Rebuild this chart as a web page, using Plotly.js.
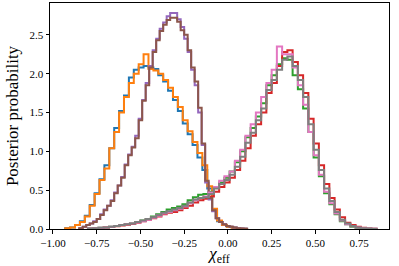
<!DOCTYPE html>
<html>
<head>
<meta charset="utf-8">
<script src="https://cdn.plot.ly/plotly-3.0.1.min.js"></script>
<style>html,body{margin:0;padding:0;background:#fff;}#chart{width:399px;height:266px;}</style>
</head>
<body>
<div id="chart"></div>
<script>
// Bin edges (chi_eff) for each group of histograms
const edgesA = [-0.930,-0.902,-0.874,-0.846,-0.818,-0.790,-0.762,-0.734,-0.706,-0.678,-0.650,-0.622,-0.594,-0.566,-0.538,-0.510,-0.482,-0.454,-0.426,-0.398,-0.370,-0.342,-0.314,-0.286,-0.258,-0.230,-0.202,-0.174,-0.146,-0.118,-0.090,-0.062,-0.034,-0.006,0.022,0.050,0.078,0.106];
const edgesB = [-0.85,-0.83,-0.81,-0.79,-0.77,-0.75,-0.73,-0.71,-0.69,-0.67,-0.65,-0.63,-0.61,-0.59,-0.57,-0.55,-0.53,-0.51,-0.49,-0.47,-0.45,-0.43,-0.41,-0.39,-0.37,-0.35,-0.33,-0.31,-0.29,-0.27,-0.25,-0.23,-0.21,-0.19,-0.17,-0.15,-0.13,-0.11,-0.09,-0.07,-0.05,-0.03,-0.01,0.01,0.03,0.05,0.07,0.09,0.11];
const edgesC = [-0.80,-0.77,-0.74,-0.71,-0.68,-0.65,-0.62,-0.59,-0.56,-0.53,-0.50,-0.47,-0.44,-0.41,-0.38,-0.35,-0.32,-0.29,-0.26,-0.23,-0.20,-0.17,-0.14,-0.11,-0.08,-0.05,-0.02,0.01,0.04,0.07,0.10,0.13,0.16,0.19,0.22,0.25,0.28,0.31,0.34,0.37,0.40,0.43,0.46,0.49,0.52,0.55,0.58,0.61,0.64,0.67,0.70,0.73,0.76,0.79,0.82,0.85];

// Posterior densities per bin
const blueVals = [0.01,0.02,0.05,0.10,0.17,0.31,0.46,0.64,0.82,1.04,1.30,1.52,1.72,1.95,2.05,2.08,2.10,2.08,2.06,1.98,1.90,1.78,1.66,1.52,1.36,1.22,1.08,0.92,0.76,0.52,0.24,0.10,0.05,0.03,0.015,0.008,0.003];
const orangeVals = [0.01,0.02,0.05,0.09,0.16,0.30,0.45,0.63,0.78,1.04,1.25,1.50,1.70,1.88,2.00,2.12,2.25,2.06,2.04,2.00,1.92,1.82,1.70,1.57,1.40,1.26,1.12,0.98,0.82,0.55,0.26,0.11,0.05,0.03,0.015,0.008,0.003];
const purpleVals = [0.01,0.03,0.05,0.07,0.10,0.13,0.19,0.25,0.30,0.37,0.47,0.56,0.67,0.83,0.96,1.06,1.20,1.42,1.66,1.88,2.10,2.30,2.45,2.58,2.66,2.74,2.78,2.78,2.70,2.60,2.45,2.28,2.05,1.85,1.50,1.08,0.60,0.38,0.23,0.14,0.09,0.06,0.04,0.03,0.02,0.01,0.008,0.004];
const brownVals = [0.01,0.03,0.05,0.07,0.09,0.13,0.18,0.24,0.30,0.36,0.46,0.56,0.66,0.82,0.95,1.05,1.17,1.40,1.65,1.85,2.08,2.28,2.43,2.55,2.63,2.69,2.72,2.72,2.67,2.56,2.50,2.30,2.08,1.90,1.56,1.10,0.62,0.40,0.24,0.14,0.09,0.06,0.04,0.03,0.02,0.01,0.008,0.004];
const greenVals = [0.005,0.01,0.015,0.02,0.03,0.04,0.05,0.06,0.07,0.09,0.11,0.13,0.16,0.19,0.22,0.25,0.27,0.29,0.32,0.37,0.41,0.44,0.45,0.48,0.54,0.60,0.66,0.74,0.86,1.00,1.18,1.30,1.45,1.62,1.85,1.98,2.12,2.20,2.18,1.98,1.80,1.55,1.25,0.92,0.68,0.46,0.32,0.19,0.10,0.06,0.03,0.015,0.008,0.003,0.001];
const redVals = [0.004,0.008,0.012,0.018,0.025,0.035,0.045,0.055,0.065,0.08,0.10,0.12,0.14,0.16,0.19,0.21,0.22,0.24,0.27,0.30,0.34,0.37,0.39,0.42,0.48,0.54,0.60,0.66,0.76,0.88,1.04,1.20,1.35,1.50,1.75,1.88,2.10,2.28,2.30,2.15,1.98,1.75,1.42,1.10,0.82,0.58,0.40,0.25,0.15,0.08,0.05,0.03,0.015,0.008,0.004];
const pinkVals = [0.005,0.01,0.015,0.02,0.03,0.04,0.05,0.06,0.07,0.085,0.10,0.12,0.145,0.17,0.20,0.22,0.24,0.26,0.29,0.33,0.37,0.40,0.42,0.47,0.54,0.62,0.68,0.74,0.88,1.02,1.20,1.35,1.50,1.70,1.88,2.05,2.35,2.25,2.25,2.08,1.85,1.60,1.25,0.95,0.70,0.48,0.33,0.20,0.11,0.06,0.035,0.02,0.01,0.005,0.002];
const grayVals = [0.005,0.01,0.015,0.02,0.03,0.04,0.05,0.06,0.07,0.09,0.11,0.13,0.15,0.18,0.21,0.23,0.25,0.27,0.30,0.34,0.38,0.40,0.41,0.45,0.52,0.58,0.63,0.70,0.80,0.93,1.11,1.24,1.40,1.55,1.79,1.92,2.05,2.18,2.22,2.10,1.92,1.70,1.35,1.02,0.76,0.52,0.36,0.22,0.12,0.07,0.04,0.02,0.01,0.005,0.002];

const xTicks = [-1.00,-0.75,-0.50,-0.25,0.00,0.25,0.50,0.75];
const yTicks = [0.0,0.5,1.0,1.5,2.0,2.5];

function stepTrace(edges, vals, color) {
  const x = [edges[0]].concat(edges);
  const y = [0].concat(vals).concat([0]);
  return {x: x, y: y, type: 'scatter', mode: 'lines',
    line: {shape: 'hv', color: color, width: 2}, hoverinfo: 'skip', showlegend: false};
}

const traces = [
  stepTrace(edgesA, blueVals, '#1f77b4'),
  stepTrace(edgesA, orangeVals, '#ff7f0e'),
  stepTrace(edgesC, greenVals, '#2ca02c'),
  stepTrace(edgesC, redVals, '#d62728'),
  stepTrace(edgesB, purpleVals, '#9467bd'),
  stepTrace(edgesB, brownVals, '#8c564b'),
  stepTrace(edgesC, pinkVals, '#e377c2'),
  stepTrace(edgesC, grayVals, '#7f7f7f')
];

const fnt = 'Liberation Serif, Times New Roman, serif';
const layout = {
  width: 399, height: 266,
  margin: {l: 50, r: 10, t: 3, b: 37},
  paper_bgcolor: '#fff', plot_bgcolor: '#fff',
  font: {family: fnt, color: '#000', size: 11},
  xaxis: {
    range: [-1.017, 0.921], tickvals: xTicks, tickformat: '.2f',
    showgrid: false, zeroline: false, showline: true, mirror: true,
    linecolor: '#000', linewidth: 1, ticks: 'outside', ticklen: 3.5, tickcolor: '#000',
    tickfont: {family: fnt, size: 11},
    title: {text: '<i>χ</i><sub>eff</sub>', font: {family: fnt, size: 17}, standoff: 2}
  },
  yaxis: {
    range: [0, 2.91], tickvals: yTicks, tickformat: '.1f',
    showgrid: false, zeroline: false, showline: true, mirror: true,
    linecolor: '#000', linewidth: 1, ticks: 'outside', ticklen: 3.5, tickcolor: '#000',
    tickfont: {family: fnt, size: 11},
    title: {text: 'Posterior probability', font: {family: fnt, size: 17}, standoff: 6}
  }
};

Plotly.newPlot('chart', traces, layout, {staticPlot: true, displayModeBar: false});
</script>
</body>
</html>
